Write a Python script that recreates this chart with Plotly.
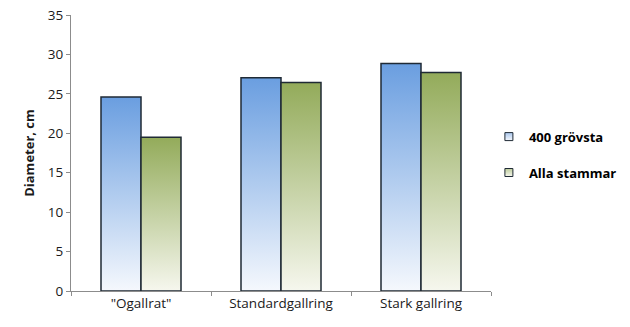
import plotly.graph_objects as go

categories = ['"Ogallrat"', "Standardgallring", "Stark gallring"]
series_names = ["400 grövsta", "Alla stammar"]
values_400 = [24.6, 27.05, 28.85]
values_alla = [19.5, 26.45, 27.7]
y_ticks = [0, 5, 10, 15, 20, 25, 30, 35]

top_colors = ["#6a9ee0", "#93ab5a"]
bottom_colors = ["#f5f8fd", "#f6f7ee"]
legend_colors = ["#a9c6ec", "#bccb9a"]
bar_w = 40 / 140

fig = go.Figure()
for s, (name, vals) in enumerate(zip(series_names, [values_400, values_alla])):
    for i, v in enumerate(vals):
        x0 = i - bar_w + s * bar_w
        x1 = x0 + bar_w
        fig.add_trace(go.Scatter(
            x=[x0, x0, x1, x1, x0], y=[0, v, v, 0, 0],
            mode="lines", fill="toself",
            fillgradient=dict(type="vertical",
                              colorscale=[[0, bottom_colors[s]], [1, top_colors[s]]]),
            line=dict(color="#1f2a35", width=1.5),
            name=name, legendgroup=name, showlegend=False,
            hoverinfo="skip",
        ))
    fig.add_trace(go.Scatter(
        x=[None], y=[None], mode="markers", name=name, legendgroup=name,
        marker=dict(symbol="square", size=8, color=legend_colors[s],
                    gradient=dict(type="vertical", color=bottom_colors[s]),
                    line=dict(color="#1f2a35", width=1)),
        showlegend=True,
    ))

fig.update_layout(
    width=630, height=327,
    margin=dict(l=71, r=139, t=15, b=36, autoexpand=False),
    paper_bgcolor="white", plot_bgcolor="white",
    font=dict(family="Open Sans, Liberation Sans, sans-serif", size=12, color="#1a1a1a"),
    showlegend=True,
    legend=dict(x=0.995, y=0.494, xanchor="left", yanchor="middle",
                font=dict(size=13, color="#000", weight="bold"),
                traceorder="grouped", tracegroupgap=16,
                itemwidth=30),
    xaxis=dict(range=[-0.5, 2.5], tickvals=[0, 1, 2], ticktext=categories,
               ticks="", showgrid=False, zeroline=False,
               showline=True, linecolor="#8c8c8c", linewidth=1,
               tickfont=dict(size=13.5),
               minor=dict(tick0=-0.5, dtick=1, ticks="outside", ticklen=4,
                          tickcolor="#8c8c8c", showgrid=False)),
    yaxis=dict(range=[0, 35], tickvals=y_ticks, ticks="outside", ticklen=4,
               tickcolor="#8c8c8c", showgrid=False, zeroline=False,
               showline=True, linecolor="#8c8c8c", linewidth=1,
               tickfont=dict(size=13.5),
               title=dict(text="Diameter, cm", font=dict(size=13, weight="bold"), standoff=10)),
)

fig.write_html("out.html")
